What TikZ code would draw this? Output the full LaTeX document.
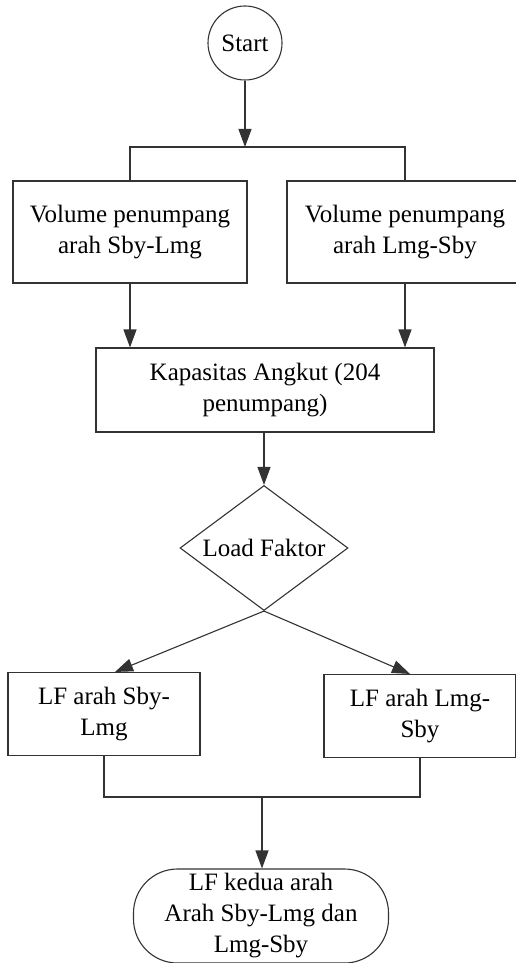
\documentclass[tikz,border=0pt]{standalone}
\usepackage{fontspec}
\setmainfont{Liberation Serif}
\usetikzlibrary{arrows.meta, positioning, shapes.geometric}

\begin{document}
\begin{tikzpicture}[x=1pt, y=-1pt,
    line width=1.1pt,
    every node/.style={font=\fontsize{25}{31}\selectfont, align=center, inner sep=0pt},
    box/.style={draw=black!80, rectangle},
    arr/.style={-{Triangle[length=18pt, width=13pt]}},
    lne/.style={draw=black!80}]
        \useasboundingbox (0,0) rectangle (515,963);

        % Start
        \node[draw=black!80, circle, minimum size=74pt] (start) at (245,43) {Start};

        % Volume penumpang
        \node[box, minimum width=234pt, minimum height=102pt] (volA) at (130,232) {Volume penumpang\\arah Sby-Lmg};
        \node[box, minimum width=236pt, minimum height=102pt] (volB) at (405,232) {Volume penumpang\\arah Lmg-Sby};
        \coordinate (split) at (245,147);

        % Kapasitas
        \node[box, minimum width=338pt, minimum height=84pt] (kap) at (265,390) {Kapasitas Angkut (204\\penumpang)};

        % Load Faktor
        \node[draw=black!80, diamond, aspect=1.34, minimum width=168pt, minimum height=125pt] (lf) at (264,548) {Load Faktor};

        % LF per arah
        \node[box, minimum width=192pt, minimum height=83pt] (lfA) at (104,714) {LF arah Sby-\\Lmg};
        \node[box, minimum width=192pt, minimum height=83pt] (lfB) at (420,716) {LF arah Lmg-\\Sby};
        \coordinate (join) at (262,797);

        % LF kedua arah
        \node[draw=black!80, rectangle, rounded corners=44pt, minimum width=255pt, minimum height=94pt] (hasil) at (261,916) {LF kedua arah\\Arah Sby-Lmg dan\\Lmg-Sby};

        % connectors
        \draw[lne, arr] (start) -- (split);
        \draw[lne] (volA.north) |- (split) -| (volB.north);
        \draw[lne, arr] (volA.south) -- (volA.south |- kap.north);
        \draw[lne, arr] (volB.south) -- (volB.south |- kap.north);
        \draw[lne, arr] (kap.south -| lf.north) -- (lf.north);
        \draw[lne, arr] (lf.south) -- ([xshift=11pt]lfA.north);
        \draw[lne, arr] (lf.south) -- ([xshift=-10pt]lfB.north);
        \draw[lne] (lfA.south) |- (join) -| (lfB.south);
        \draw[lne, arr] (join) -- (join |- hasil.north);
    \end{tikzpicture}
\end{document}
